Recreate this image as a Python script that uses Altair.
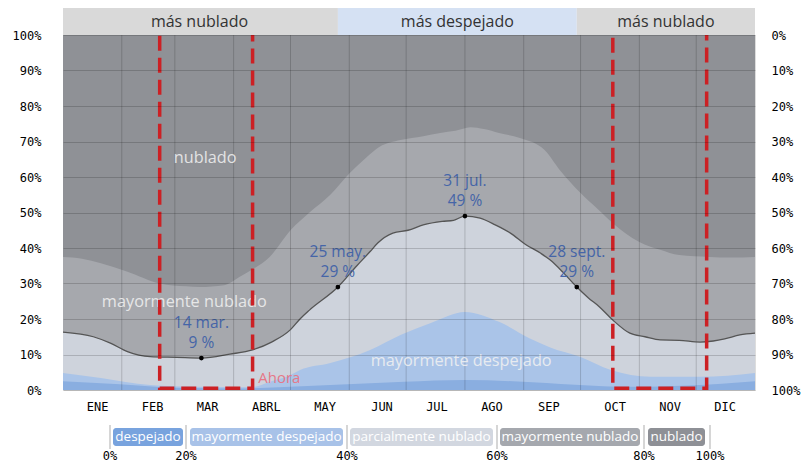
import altair as alt
import pandas as pd

# ---------------- data ----------------
MONTHS = ["ENE", "FEB", "MAR", "ABRL", "MAY", "JUN", "JUL", "AGO", "SEP", "OCT", "NOV", "DIC"]
MONTH_LABEL_DAYS = [18, 47, 76, 107, 138, 168, 197, 226, 256, 291, 320, 349]
MONTH_START_DAYS = [31, 59, 90, 120, 151, 181, 212, 243, 273, 304, 334]

# top of "mayormente nublado" band (cumulative %)
CLOUDY_DAYS = [0, 10, 20, 34, 51, 65, 72, 85, 93, 100, 109, 120, 130, 141, 151, 160, 167, 178, 190, 199,
               207, 215, 222, 230, 241, 254, 262, 273, 282, 290, 304, 315, 325, 341, 352, 365]
CLOUDY_TOP = [37.5, 37, 35.7, 33.3, 30, 29.2, 29, 29.5, 31.8, 34, 37.5, 45, 50, 55, 61, 65.5, 68.5, 70.4, 71.5, 72.4,
              73, 74, 73.5, 72.4, 71, 67.6, 62, 55.5, 51, 47, 41.7, 39.5, 38, 37.5, 37.3, 37.5]

# top of "parcialmente nublado" band (the black line)
PARTLY_DAYS = [0, 16, 25, 34, 46, 60, 73, 88, 100, 110, 120, 125, 130, 145, 155, 162, 166, 174, 182, 190,
               200, 206, 212, 220, 228, 236, 244, 252, 257, 264, 271, 277, 283, 290, 299, 307, 315, 325, 336, 343,
               349, 357, 365]
PARTLY_TOP = [16.3, 15, 13.2, 10.8, 9.4, 9.2, 9, 10.1, 11.3, 13.5, 17, 20, 22.5, 29, 35, 39, 41.4, 44.2, 45, 46.5,
              47.5, 47.8, 49, 48.4, 46.5, 44.2, 41, 38.5, 36.6, 33, 29, 26, 23.4, 19.7, 16, 15, 14.1, 14, 13.5, 13.8,
              14.4, 15.5, 16]

# top of "mayormente despejado" band
MCLEAR_DAYS = [0, 20, 46, 70, 99, 110, 120, 125, 141, 162, 178, 194, 212, 230, 246, 257, 273, 289, 310, 336, 365]
MCLEAR_TOP = [4.8, 3.4, 1.4, 0.9, 0.8, 2.5, 4.2, 5.6, 7.6, 11.3, 15.5, 18.9, 22, 19.2, 14.6, 12, 9.3, 5.6, 3.7, 3.7, 4.8]

# top of "despejado" band
CLEAR_DAYS = [0, 30, 60, 90, 120, 150, 180, 212, 240, 270, 300, 330, 365]
CLEAR_TOP = [2.5, 1.6, 0.6, 0.4, 0.9, 1.6, 2.3, 2.8, 2.4, 1.5, 0.9, 1.3, 2.5]

ANNOT_DAYS = [73, 145, 212, 271]
ANNOT_VALUES = [9, 29, 49, 29]
ANNOT_DATES = ["14 mar.", "25 may.", "31 jul.", "28 sept."]
ANNOT_PCTS = ["9 %", "29 %", "49 %", "29 %"]

BAND_LABELS = ["nublado", "mayormente nublado", "mayormente despejado"]
BAND_LABEL_DAYS = [75, 64, 210]
BAND_LABEL_VALUES = [65.4, 24.8, 8.2]

SEASON_LABELS = ["más nublado", "más despejado", "más nublado"]
SEASON_START = [0, 145, 271]
SEASON_END = [145, 271, 365]
SEASON_TEXT_DAYS = [72, 208, 318]

BOX_START = [51, 290]
BOX_END = [100, 339.5]

NOW_DAY = [103]
NOW_VALUE = [3.5]

PCT_TICKS = [0, 10, 20, 30, 40, 50, 60, 70, 80, 90, 100]
LEGEND_CATS = ["despejado", "mayormente despejado", "parcialmente nublado", "mayormente nublado", "nublado"]
LEGEND_TICKS = ["0%", "20%", "40%", "60%", "80%", "100%"]

# ---------------- layout / style ----------------
W, H = 692, 355
C_NUB = "#8f9196"
C_MNUB = "#a6a8ad"
C_PNUB = "#ced3dc"
C_MDES = "#aac4e8"
C_DES = "#8aaee0"
SEASON_COLORS = ["#d9d9d9", "#d5e1f3", "#d9d9d9"]
LEGEND_COLORS = ["#78a3de", "#a8c2e8", "#d2d7e0", "#a5a8ae", "#8e9096"]
# legend layout in pixels, relative to the plot origin
LEG_X0 = [50, 127, 287, 437, 585]
LEG_X1 = [120, 280, 430, 577, 642]
LEG_SEP_X = [47, 123, 284, 434, 581, 647]
FONT = "Open Sans"
AXFONT = "DejaVu Sans Mono"

xscale = alt.Scale(domain=[0, 365], nice=False, zero=False)
yscale = alt.Scale(domain=[0, 100], nice=False)

label_expr = "[" + ",".join("'%s'" % m for m in MONTHS) + "][indexof([" + ",".join(
    str(d) for d in MONTH_LABEL_DAYS) + "], datum.value)]"
xaxis = alt.Axis(values=MONTH_LABEL_DAYS, labelExpr=label_expr, title=None, grid=False, ticks=False,
                 tickSize=0, domain=False, labelPadding=11, labelFont=AXFONT, labelFontSize=12,
                 labelColor="#000")
yaxis = alt.Axis(values=PCT_TICKS, labelExpr="datum.value + '%'", title=None, grid=True, gridColor="#000",
                 gridOpacity=0.17, gridWidth=1, ticks=False, tickSize=0, domain=False, labelPadding=22,
                 labelFont=AXFONT, labelFontSize=12, labelColor="#000", zindex=1)


def X(field):
    return alt.X(field, type="quantitative", scale=xscale, axis=xaxis)


def Y(field):
    return alt.Y(field, type="quantitative", scale=yscale, axis=yaxis)


def area(days, vals, color):
    df = pd.DataFrame({"day": days, "v": vals})
    return alt.Chart(df).mark_area(color=color, opacity=1, interpolate="monotone").encode(
        x=X("day"), y=Y("v"))


bg = area([0, 365], [100, 100], C_NUB)
a_mnub = area(CLOUDY_DAYS, CLOUDY_TOP, C_MNUB)
a_pnub = area(PARTLY_DAYS, PARTLY_TOP, C_PNUB)
a_mdes = area(MCLEAR_DAYS, MCLEAR_TOP, C_MDES)
a_des = area(CLEAR_DAYS, CLEAR_TOP, C_DES)

vgrid = alt.Chart(pd.DataFrame({"day": MONTH_START_DAYS})).mark_rule(
    color="#000", opacity=0.17, strokeWidth=1).encode(x=X("day"), y=alt.value(0), y2=alt.value(H))

line = alt.Chart(pd.DataFrame({"day": PARTLY_DAYS, "v": PARTLY_TOP})).mark_line(
    color="#555555", strokeWidth=1.3, interpolate="monotone").encode(x=X("day"), y=Y("v"))

adf = pd.DataFrame({"day": ANNOT_DAYS, "v": ANNOT_VALUES, "date": ANNOT_DATES, "pct": ANNOT_PCTS})
dots = alt.Chart(adf).mark_circle(color="#000", size=22, opacity=1).encode(x=X("day"), y=Y("v"))
annot = []
for field, dy in (("date", -35), ("pct", -15)):
    annot.append(alt.Chart(adf).mark_text(font=FONT, fontSize=15.5, dy=dy, color="#4565a8").encode(
        x=X("day"), y=Y("v"), text=alt.Text(field + ":N")))

bl = alt.Chart(pd.DataFrame({"day": BAND_LABEL_DAYS, "v": BAND_LABEL_VALUES, "t": BAND_LABELS})).mark_text(
    font=FONT, fontSize=16.3, color="#f2f2f2", opacity=0.85).encode(x=X("day"), y=Y("v"), text="t:N")

boxes = alt.Chart(pd.DataFrame({"a": BOX_START, "b": BOX_END, "top": [101, 101], "bot": [0.5, 0.5]})).mark_rect(
    fill=None, fillOpacity=0, stroke="#cc2024", strokeWidth=3.5, strokeDash=[15, 7]).encode(
    x=X("a"), x2="b", y=Y("top"), y2="bot")

now = alt.Chart(pd.DataFrame({"day": NOW_DAY, "v": NOW_VALUE, "t": ["Ahora"]})).mark_text(
    font=FONT, fontSize=15, color="#e57888", align="left").encode(x=X("day"), y=Y("v"), text="t:N")

sdf = pd.DataFrame({"a": SEASON_START, "b": SEASON_END, "mid": SEASON_TEXT_DAYS, "t": SEASON_LABELS,
                    "c": SEASON_COLORS})
season_rect = alt.Chart(sdf).mark_rect().encode(
    x=X("a"), x2="b", y=alt.value(-27), y2=alt.value(0), color=alt.Color("c:N", scale=None))
season_text = alt.Chart(sdf).mark_text(font=FONT, fontSize=16, color="#333333").encode(
    x=X("mid"), y=alt.value(-13), text="t:N")

# legend (pixel layout under the plot)
ldf = pd.DataFrame({"x0": LEG_X0, "x1": LEG_X1, "t": LEGEND_CATS, "c": LEGEND_COLORS,
                    "xm": [(a + b) / 2 for a, b in zip(LEG_X0, LEG_X1)]})
leg_box = alt.Chart(ldf).mark_rect(cornerRadius=3).encode(
    x=alt.X("x0:Q", scale=None, axis=None), x2="x1:Q", y=alt.value(393), y2=alt.value(411),
    color=alt.Color("c:N", scale=None))
leg_txt = alt.Chart(ldf).mark_text(font=FONT, fontSize=13.5, color="white").encode(
    x=alt.X("xm:Q", scale=None, axis=None), y=alt.value(402), text="t:N")
sdf2 = pd.DataFrame({"x": LEG_SEP_X, "t": LEGEND_TICKS})
leg_sep = alt.Chart(sdf2).mark_rule(color="#c8c8c8", strokeWidth=1.5).encode(
    x=alt.X("x:Q", scale=None, axis=None), y=alt.value(390), y2=alt.value(414))
leg_tick = alt.Chart(sdf2).mark_text(font=AXFONT, fontSize=12, color="#000").encode(
    x=alt.X("x:Q", scale=None, axis=None), y=alt.value(421), text="t:N")

left = alt.layer(bg, a_mnub, a_pnub, a_mdes, a_des, vgrid, line, dots, *annot, bl, boxes, now,
                 season_rect, season_text, leg_box, leg_txt, leg_sep, leg_tick)

right = alt.Chart(pd.DataFrame({"v": [0, 100]})).mark_rule(opacity=0).encode(
    y=alt.Y("v:Q", scale=alt.Scale(domain=[0, 100], nice=False, reverse=True),
            axis=alt.Axis(values=PCT_TICKS, labelExpr="datum.value + '%'", title=None, grid=False,
                          ticks=False, tickSize=0, domain=False, labelPadding=16, orient="right",
                          labelFont=AXFONT, labelFontSize=12, labelColor="#000", labelAlign="left")))

chart = alt.layer(left, right).resolve_scale(y="independent").properties(
    width=W, height=H,
    autosize=alt.AutoSizeParams(type="none"),
    padding={"left": 55, "top": 27, "right": 47, "bottom": 73},
).configure_view(stroke=None).configure(background="white")

chart.save("out.html", embed_options={"renderer": "svg", "actions": False})
